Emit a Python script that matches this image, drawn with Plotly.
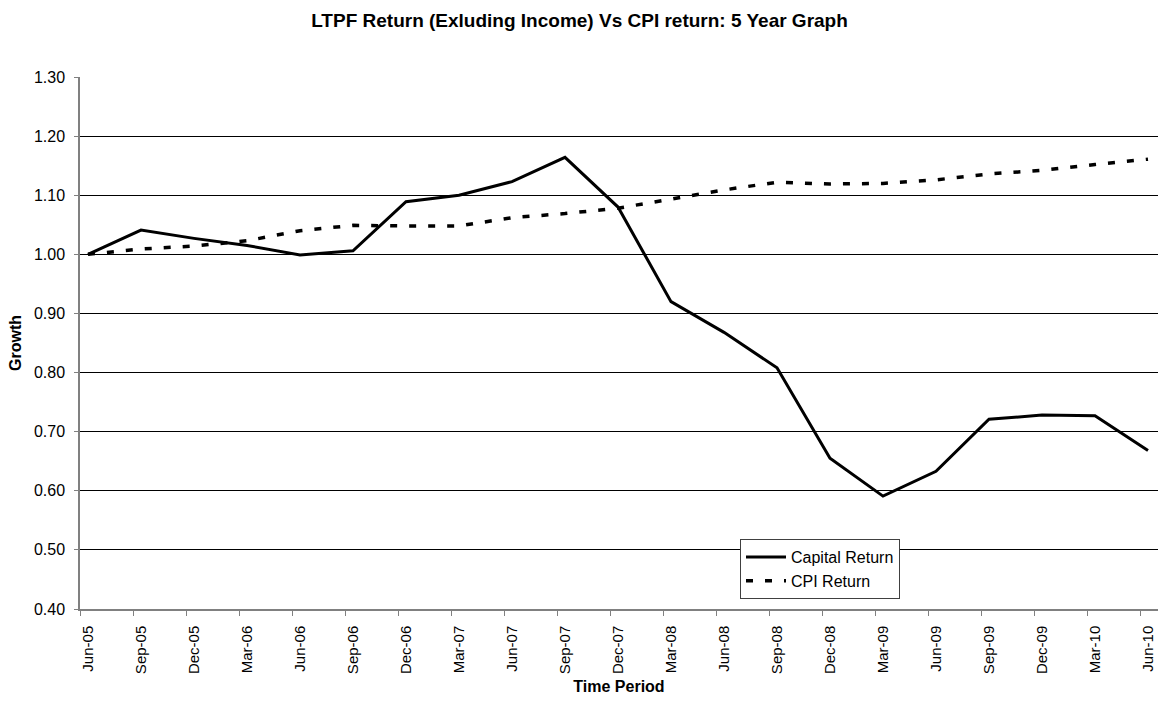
import plotly.graph_objects as go

periods = ["Jun-05", "Sep-05", "Dec-05", "Mar-06", "Jun-06", "Sep-06", "Dec-06",
           "Mar-07", "Jun-07", "Sep-07", "Dec-07", "Mar-08", "Jun-08", "Sep-08",
           "Dec-08", "Mar-09", "Jun-09", "Sep-09", "Dec-09", "Mar-10", "Jun-10"]

capital_return = [1.000, 1.041, 1.027, 1.015, 0.999, 1.006, 1.089,
                  1.100, 1.123, 1.164, 1.080, 0.920, 0.868, 0.808,
                  0.655, 0.591, 0.633, 0.721, 0.728, 0.727, 0.668]

cpi_return = [1.000, 1.009, 1.014, 1.023, 1.040, 1.049, 1.048,
              1.048, 1.062, 1.069, 1.078, 1.093, 1.109, 1.122,
              1.119, 1.120, 1.126, 1.136, 1.142, 1.152, 1.161]

y_ticks = [0.40, 0.50, 0.60, 0.70, 0.80, 0.90, 1.00, 1.10, 1.20, 1.30]

FONT = "Liberation Sans, Arial, sans-serif"

W, H = 1159, 703
L, R, T, B = 80, 1, 77, 94
plot_w = W - L - R
x_idx = list(range(len(periods)))
pad_left = 8 / 53.0
pad_right = 10 / 53.0
tick_offset = 8 / 53.0

fig = go.Figure()
fig.add_trace(go.Scatter(
    x=x_idx, y=capital_return, mode="lines", name="Capital Return",
    line=dict(color="black", width=3),
))
fig.add_trace(go.Scatter(
    x=x_idx, y=cpi_return, mode="lines", name="CPI Return",
    line=dict(color="black", width=3.5, dash="7px,12px"),
))

fig.update_layout(
    width=W, height=H,
    margin=dict(l=L, r=R, t=T, b=B),
    paper_bgcolor="white", plot_bgcolor="white",
    font=dict(family=FONT, size=16, color="black"),
    title=dict(
        text="<b>LTPF Return (Exluding Income) Vs CPI return: 5 Year Graph</b>",
        x=0.5, xref="container", xanchor="center",
        y=1 - 20 / H, yref="container", yanchor="middle",
        font=dict(family=FONT, size=19, color="black"),
    ),
    showlegend=True,
    legend=dict(
        x=(740 - L) / plot_w, y=(609 - 539) / (609 - 77),
        xanchor="left", yanchor="top",
        bgcolor="white", bordercolor="#404040", borderwidth=1,
        font=dict(family=FONT, size=16, color="black"),
        tracegroupgap=0, itemwidth=40,
    ),
)

fig.update_xaxes(
    range=[-pad_left, len(periods) - 1 + pad_right],
    tickvals=[i - tick_offset for i in x_idx], ticktext=periods,
    ticklabelshift=8,
    showgrid=False, showline=True, linecolor="#808080", linewidth=1.5,
    ticks="outside", ticklen=5, tickcolor="#808080", tickwidth=1,
    tickangle=-90, tickfont=dict(family=FONT, size=15, color="black"),
    ticklabelstandoff=4,
    title=dict(text="<b>Time Period</b>", font=dict(family=FONT, size=16, color="black"), standoff=8),
    zeroline=False, automargin=False,
)
fig.update_yaxes(
    range=[0.40, 1.30], tickvals=y_ticks, ticktext=[f"{v:.2f}" for v in y_ticks],
    showgrid=True, gridcolor="black", gridwidth=1,
    showline=True, linecolor="#808080", linewidth=1.5,
    ticks="outside", ticklen=4, tickcolor="#808080", tickwidth=1,
    tickfont=dict(family=FONT, size=16, color="black"),
    ticklabelstandoff=6,
    title=dict(text="<b>Growth</b>", font=dict(family=FONT, size=16, color="black"), standoff=8),
    zeroline=False, automargin=False,
)

fig.write_html(
    "out.html",
    config={"displayModeBar": False},
    post_script="document.body.style.margin='0';document.body.style.overflow='hidden';",
)
